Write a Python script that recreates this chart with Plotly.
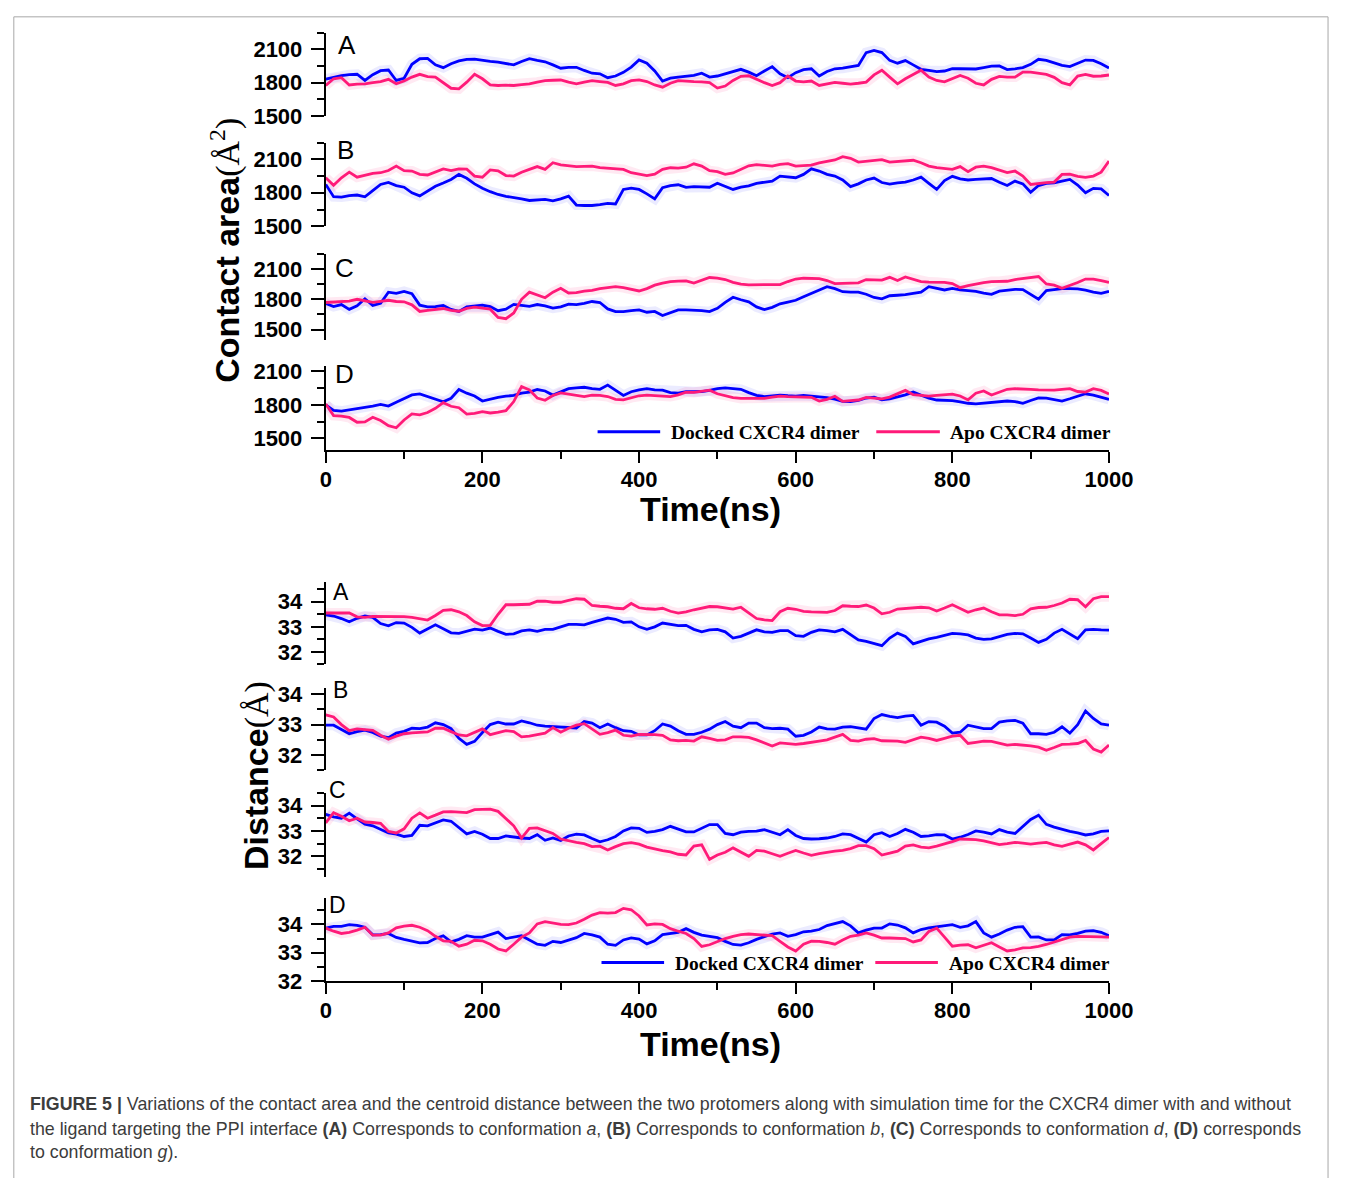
import plotly.graph_objects as go

# ---------------------------------------------------------------- data
time_ns = list(range(0, 1001, 10))

# Contact area (Å^2), smoothed traces
area_a_docked = [1833, 1850, 1863, 1872, 1876, 1820, 1872, 1908, 1914, 1820, 1840, 1965, 2015, 2018, 1960, 1935, 1970, 1995, 2010, 2012,
                 2000, 1992, 1985, 1972, 1960, 1990, 2015, 2000, 1988, 1960, 1930, 1938, 1938, 1910, 1885, 1880, 1845, 1860, 1893, 1940,
                 2005, 1975, 1905, 1815, 1840, 1850, 1860, 1865, 1885, 1850, 1860, 1878, 1900, 1920, 1895, 1863, 1905, 1944, 1880, 1845,
                 1890, 1917, 1925, 1860, 1900, 1925, 1930, 1940, 1955, 2070, 2090, 2070, 2000, 1975, 1998, 1960, 1920, 1910, 1900, 1905,
                 1925, 1925, 1925, 1923, 1935, 1948, 1950, 1918, 1925, 1935, 1965, 2010, 2000, 1975, 1955, 1945, 1975, 2003, 2000, 1970,
                 1932]
area_a_apo = [1775, 1835, 1845, 1780, 1788, 1790, 1800, 1810, 1830, 1790, 1815, 1850, 1875, 1855, 1850, 1800, 1750, 1745, 1805, 1875,
              1835, 1780, 1775, 1778, 1775, 1782, 1790, 1805, 1818, 1822, 1824, 1805, 1790, 1805, 1818, 1810, 1803, 1775, 1790, 1818,
              1825, 1810, 1780, 1760, 1795, 1818, 1812, 1810, 1808, 1800, 1752, 1770, 1820, 1857, 1862, 1830, 1800, 1775, 1800, 1860,
              1815, 1808, 1815, 1775, 1790, 1803, 1795, 1788, 1795, 1805, 1870, 1912, 1850, 1790, 1835, 1870, 1912, 1850, 1820, 1808,
              1835, 1865, 1840, 1795, 1780, 1830, 1857, 1850, 1850, 1895, 1895, 1882, 1875, 1848, 1800, 1780, 1860, 1875, 1858, 1860,
              1869]
area_b_docked = [1875, 1765, 1762, 1775, 1780, 1764, 1820, 1875, 1893, 1865, 1850, 1800, 1772, 1815, 1858, 1888, 1920, 1965, 1930, 1880,
                 1840, 1810, 1785, 1768, 1758, 1745, 1731, 1738, 1740, 1728, 1745, 1770, 1690, 1686, 1686, 1693, 1705, 1700, 1830, 1842,
                 1830, 1790, 1745, 1845, 1865, 1872, 1848, 1855, 1855, 1850, 1885, 1860, 1830, 1850, 1862, 1885, 1898, 1905, 1950, 1940,
                 1935, 1965, 2015, 1995, 1965, 1950, 1915, 1855, 1880, 1915, 1932, 1892, 1878, 1890, 1895, 1915, 1941, 1885, 1830, 1910,
                 1948, 1925, 1915, 1920, 1925, 1928, 1895, 1866, 1905, 1880, 1805, 1865, 1885, 1890, 1905, 1920, 1870, 1800, 1840, 1835,
                 1776]
area_b_apo = [1935, 1868, 1935, 1985, 1940, 1955, 1975, 1980, 2000, 2040, 1998, 1995, 1965, 1960, 1990, 2015, 2000, 2015, 2012, 1950,
              1940, 2005, 1998, 1955, 1950, 1985, 2010, 2035, 2010, 2070, 2050, 2040, 2035, 2038, 2040, 2025, 2018, 2015, 2010, 1980,
              1965, 1955, 1968, 2010, 2025, 2022, 2030, 2060, 2040, 1998, 1990, 1965, 1978, 2010, 2042, 2052, 2048, 2040, 2055, 2062,
              2040, 2044, 2048, 2068, 2080, 2095, 2125, 2110, 2076, 2085, 2095, 2098, 2075, 2080, 2090, 2092, 2070, 2040, 2025, 2018,
              2010, 2035, 1990, 2030, 2040, 2025, 2000, 1982, 1995, 1950, 1875, 1885, 1892, 1896, 1965, 1968, 1948, 1938, 1950, 1985,
              2085]
area_c_docked = [1758, 1728, 1748, 1700, 1735, 1805, 1740, 1760, 1870, 1858, 1878, 1855, 1742, 1725, 1727, 1740, 1700, 1680, 1725, 1730,
                 1742, 1728, 1687, 1702, 1750, 1740, 1730, 1748, 1735, 1712, 1725, 1752, 1748, 1760, 1778, 1768, 1705, 1678, 1678, 1688,
                 1695, 1672, 1680, 1640, 1668, 1695, 1695, 1693, 1688, 1678, 1710, 1770, 1820, 1795, 1775, 1725, 1698, 1720, 1755, 1772,
                 1790, 1825, 1860, 1895, 1925, 1905, 1875, 1870, 1871, 1850, 1818, 1805, 1835, 1840, 1845, 1858, 1871, 1925, 1905, 1892,
                 1907, 1892, 1885, 1878, 1860, 1848, 1880, 1892, 1898, 1895, 1850, 1800, 1885, 1895, 1905, 1905, 1902, 1890, 1870, 1858,
                 1878]
area_c_apo = [1768, 1774, 1778, 1782, 1800, 1785, 1770, 1780, 1790, 1778, 1775, 1745, 1680, 1690, 1700, 1709, 1690, 1682, 1710, 1722,
              1712, 1702, 1620, 1608, 1665, 1800, 1870, 1840, 1815, 1870, 1908, 1862, 1865, 1880, 1888, 1905, 1918, 1925, 1915, 1900,
              1882, 1905, 1940, 1960, 1975, 1980, 1982, 1960, 1985, 2015, 2010, 1995, 1968, 1950, 1943, 1943, 1950, 1948, 1945, 1975,
              2000, 2008, 2008, 2005, 1985, 1955, 1958, 1960, 1962, 1995, 1995, 1990, 2017, 1985, 2020, 1995, 1975, 1970, 1968, 1968,
              1955, 1915, 1935, 1952, 1965, 1975, 1975, 1978, 1995, 2005, 2017, 2025, 1952, 1940, 1908, 1935, 1965, 2000, 2000, 1985,
              1968]
area_d_docked = [1800, 1752, 1745, 1755, 1770, 1775, 1790, 1805, 1790, 1825, 1860, 1890, 1898, 1875, 1848, 1828, 1860, 1938, 1905, 1880,
                 1835, 1852, 1868, 1878, 1885, 1905, 1915, 1938, 1925, 1888, 1918, 1945, 1952, 1958, 1945, 1940, 1978, 1935, 1885, 1918,
                 1935, 1945, 1935, 1932, 1910, 1905, 1918, 1918, 1920, 1930, 1945, 1952, 1947, 1940, 1910, 1885, 1875, 1880, 1888, 1882,
                 1879, 1885, 1880, 1875, 1865, 1852, 1832, 1830, 1840, 1862, 1870, 1845, 1855, 1872, 1890, 1915, 1885, 1860, 1844, 1844,
                 1838, 1828, 1815, 1810, 1815, 1825, 1829, 1835, 1830, 1815, 1840, 1862, 1860, 1845, 1835, 1855, 1875, 1900, 1888, 1870,
                 1850]
area_d_apo = [1809, 1705, 1700, 1688, 1645, 1648, 1690, 1660, 1615, 1596, 1665, 1720, 1712, 1732, 1770, 1820, 1788, 1775, 1718, 1724,
              1740, 1728, 1735, 1748, 1830, 1965, 1935, 1862, 1842, 1885, 1908, 1895, 1885, 1875, 1888, 1885, 1875, 1850, 1845, 1865,
              1882, 1888, 1885, 1878, 1875, 1890, 1915, 1912, 1920, 1932, 1900, 1885, 1865, 1858, 1860, 1860, 1858, 1870, 1879, 1875,
              1872, 1875, 1868, 1835, 1850, 1878, 1832, 1838, 1844, 1868, 1860, 1855, 1870, 1900, 1930, 1892, 1882, 1878, 1885, 1890,
              1897, 1880, 1845, 1905, 1925, 1888, 1915, 1940, 1945, 1945, 1940, 1935, 1932, 1932, 1940, 1945, 1920, 1915, 1945, 1930,
              1897]

# Centroid distance (Å), smoothed traces
dist_a_docked = [33.48, 33.43, 33.33, 33.20, 33.34, 33.43, 33.38, 33.13, 33.04, 33.17, 33.15, 32.98, 32.75, 32.92, 33.08, 32.92, 32.76,
                 32.74, 32.83, 32.91, 32.87, 32.95, 32.82, 32.70, 32.72, 32.84, 32.88, 32.82, 32.90, 32.90, 33.00, 33.10, 33.10, 33.08,
                 33.18, 33.25, 33.35, 33.30, 33.18, 33.20, 33.00, 32.90, 33.00, 33.15, 33.10, 33.05, 33.06, 32.90, 32.80, 32.88, 32.90,
                 32.80, 32.55, 32.62, 32.75, 32.88, 32.80, 32.78, 32.85, 32.85, 32.65, 32.62, 32.78, 32.88, 32.85, 32.80, 32.90, 32.70,
                 32.48, 32.42, 32.33, 32.25, 32.55, 32.75, 32.62, 32.32, 32.42, 32.52, 32.58, 32.65, 32.74, 32.72, 32.68, 32.55, 32.50,
                 32.52, 32.60, 32.70, 32.74, 32.72, 32.55, 32.38, 32.50, 32.75, 32.90, 32.70, 32.53, 32.88, 32.90, 32.88, 32.87]
dist_a_apo = [33.55, 33.55, 33.52, 33.55, 33.40, 33.38, 33.42, 33.42, 33.43, 33.42, 33.41, 33.38, 33.32, 33.27, 33.45, 33.66, 33.68,
              33.60, 33.45, 33.20, 33.05, 33.06, 33.50, 33.88, 33.88, 33.88, 33.90, 34.02, 34.02, 33.98, 33.98, 34.05, 34.12, 34.10,
              33.85, 33.82, 33.80, 33.74, 33.72, 33.93, 33.76, 33.72, 33.70, 33.74, 33.62, 33.55, 33.60, 33.68, 33.75, 33.81, 33.80,
              33.76, 33.71, 33.78, 33.55, 33.33, 33.28, 33.25, 33.60, 33.74, 33.70, 33.62, 33.60, 33.60, 33.58, 33.65, 33.84, 33.82,
              33.81, 33.87, 33.75, 33.52, 33.58, 33.71, 33.73, 33.75, 33.78, 33.76, 33.63, 33.75, 33.88, 33.73, 33.58, 33.68, 33.75,
              33.60, 33.48, 33.48, 33.45, 33.50, 33.72, 33.77, 33.78, 33.85, 33.95, 34.10, 34.08, 33.80, 34.12, 34.20, 34.20]
dist_b_docked = [32.98, 32.98, 32.84, 32.70, 32.77, 32.82, 32.74, 32.62, 32.57, 32.72, 32.78, 32.88, 32.87, 32.92, 33.06, 33.00, 32.87,
                 32.55, 32.35, 32.45, 32.74, 33.00, 33.08, 33.02, 33.02, 33.12, 33.06, 32.98, 32.95, 32.94, 32.93, 32.90, 32.89, 33.10,
                 33.05, 32.90, 33.02, 32.90, 32.80, 32.78, 32.66, 32.66, 32.80, 33.02, 32.95, 32.80, 32.68, 32.68, 32.75, 32.85, 33.00,
                 33.10, 32.95, 32.90, 33.05, 33.05, 32.90, 32.87, 32.88, 32.85, 32.62, 32.65, 32.76, 32.92, 32.86, 32.85, 32.92, 32.93,
                 32.88, 32.85, 33.20, 33.33, 33.27, 33.23, 33.28, 33.30, 32.98, 33.10, 33.08, 32.95, 32.72, 32.75, 32.98, 32.92, 32.87,
                 32.87, 33.08, 33.12, 33.14, 33.05, 32.70, 32.70, 32.68, 32.75, 32.93, 32.72, 33.00, 33.45, 33.20, 33.02, 32.98]
dist_b_apo = [33.32, 33.25, 33.00, 32.80, 32.86, 32.83, 32.81, 32.65, 32.52, 32.62, 32.70, 32.73, 32.74, 32.76, 32.88, 32.88, 32.77,
              32.66, 32.63, 32.75, 32.86, 32.67, 32.74, 32.80, 32.77, 32.60, 32.62, 32.67, 32.72, 32.90, 32.75, 32.88, 32.98, 33.03,
              32.85, 32.68, 32.74, 32.82, 32.65, 32.62, 32.68, 32.68, 32.67, 32.65, 32.50, 32.47, 32.48, 32.46, 32.60, 32.55, 32.48,
              32.50, 32.60, 32.60, 32.58, 32.50, 32.40, 32.30, 32.40, 32.37, 32.35, 32.38, 32.43, 32.46, 32.50, 32.60, 32.68, 32.48,
              32.46, 32.52, 32.54, 32.47, 32.46, 32.46, 32.42, 32.50, 32.59, 32.55, 32.48, 32.55, 32.62, 32.65, 32.38, 32.42, 32.46,
              32.45, 32.38, 32.33, 32.35, 32.33, 32.30, 32.26, 32.16, 32.25, 32.35, 32.36, 32.38, 32.48, 32.20, 32.10, 32.33]
dist_c_docked = [33.65, 33.55, 33.50, 33.70, 33.47, 33.26, 33.20, 33.05, 32.92, 32.87, 32.78, 32.82, 33.22, 33.20, 33.30, 33.43, 33.38,
                 33.13, 32.88, 32.98, 32.87, 32.70, 32.70, 32.80, 32.75, 32.72, 32.70, 32.85, 32.63, 32.72, 32.62, 32.80, 32.87, 32.84,
                 32.70, 32.57, 32.65, 32.78, 33.00, 33.12, 33.10, 32.94, 32.98, 33.05, 33.18, 33.08, 32.96, 32.96, 33.10, 33.25, 33.25,
                 32.90, 32.85, 32.95, 32.98, 32.99, 33.05, 32.95, 32.85, 33.05, 32.82, 32.70, 32.68, 32.69, 32.72, 32.78, 32.88, 32.85,
                 32.70, 32.56, 32.85, 32.93, 32.78, 32.90, 33.06, 32.95, 32.78, 32.80, 32.85, 32.84, 32.68, 32.75, 32.86, 33.00, 32.95,
                 32.88, 33.05, 32.95, 32.90, 33.18, 33.45, 33.62, 33.26, 33.15, 33.05, 32.98, 32.92, 32.84, 32.88, 32.98, 33.00]
dist_c_apo = [33.32, 33.72, 33.58, 33.40, 33.50, 33.35, 33.33, 33.30, 32.98, 32.92, 33.08, 33.50, 33.71, 33.50, 33.62, 33.75, 33.76,
              33.73, 33.72, 33.84, 33.84, 33.86, 33.77, 33.50, 33.20, 32.72, 33.10, 33.12, 33.00, 32.90, 32.68, 32.60, 32.55, 32.50,
              32.38, 32.40, 32.25, 32.38, 32.50, 32.54, 32.48, 32.36, 32.28, 32.22, 32.17, 32.08, 32.05, 32.40, 32.45, 31.88, 32.05,
              32.16, 32.33, 32.15, 32.00, 32.23, 32.20, 32.10, 32.00, 32.12, 32.23, 32.13, 32.04, 32.10, 32.16, 32.20, 32.23, 32.30,
              32.42, 32.42, 32.30, 32.05, 32.12, 32.20, 32.40, 32.45, 32.36, 32.33, 32.40, 32.48, 32.58, 32.68, 32.68, 32.66, 32.61,
              32.53, 32.46, 32.50, 32.55, 32.52, 32.48, 32.52, 32.55, 32.45, 32.39, 32.48, 32.56, 32.45, 32.25, 32.50, 32.74]
dist_d_docked = [33.87, 33.93, 33.93, 33.99, 33.97, 33.90, 33.63, 33.64, 33.68, 33.54, 33.47, 33.42, 33.35, 33.36, 33.50, 33.60, 33.38,
                 33.47, 33.60, 33.55, 33.55, 33.64, 33.73, 33.50, 33.55, 33.60, 33.45, 33.30, 33.26, 33.40, 33.36, 33.45, 33.53, 33.68,
                 33.63, 33.55, 33.30, 33.26, 33.45, 33.52, 33.48, 33.31, 33.42, 33.64, 33.67, 33.72, 33.85, 33.72, 33.62, 33.58, 33.53,
                 33.40, 33.29, 33.27, 33.35, 33.47, 33.56, 33.66, 33.70, 33.58, 33.64, 33.74, 33.76, 33.82, 33.96, 34.02, 34.10, 33.95,
                 33.70, 33.80, 33.87, 33.87, 34.02, 33.98, 33.88, 33.70, 33.82, 33.88, 33.92, 33.95, 33.99, 33.90, 33.95, 34.10, 33.70,
                 33.55, 33.66, 33.80, 33.90, 33.92, 33.55, 33.56, 33.45, 33.45, 33.64, 33.63, 33.68, 33.76, 33.78, 33.72, 33.60]
dist_d_apo = [33.87, 33.76, 33.68, 33.72, 33.80, 33.90, 33.62, 33.62, 33.70, 33.88, 33.94, 33.97, 33.90, 33.78, 33.58, 33.42, 33.40,
              33.23, 33.30, 33.44, 33.42, 33.30, 33.13, 33.06, 33.30, 33.55, 33.70, 34.02, 34.10, 34.04, 34.00, 33.99, 34.05, 34.18,
              34.33, 34.42, 34.40, 34.42, 34.57, 34.52, 34.30, 33.98, 34.02, 34.00, 33.85, 33.76, 33.68, 33.50, 33.22, 33.28, 33.40,
              33.50, 33.58, 33.64, 33.66, 33.64, 33.62, 33.60, 33.40, 33.20, 33.06, 33.30, 33.41, 33.40, 33.36, 33.30, 33.45, 33.58,
              33.62, 33.70, 33.62, 33.52, 33.52, 33.52, 33.50, 33.38, 33.45, 33.75, 33.87, 33.55, 33.23, 33.27, 33.28, 33.17, 33.25,
              33.35, 33.20, 33.06, 33.10, 33.17, 33.18, 33.22, 33.29, 33.38, 33.47, 33.55, 33.58, 33.58, 33.56, 33.56, 33.55]

panel_letters = ["A", "B", "C", "D"]
series_names = ["Docked CXCR4 dimer", "Apo CXCR4 dimer"]
x_ticks = [0, 200, 400, 600, 800, 1000]

# ---------------------------------------------------------------- layout helpers
W, H = 1354, 1178


def px(x):
    return x / W


def py(y):
    return 1 - y / H


BLUE = "#0000ff"
PINK = "#ff1a78"
HAZE_BLUE = "rgba(60,60,255,0.10)"
HAZE_PINK = "rgba(255,40,130,0.10)"
TICK_FONT = dict(family="Arial, Liberation Sans, sans-serif", size=22, color="black", weight="bold")

# (data pair, y-range, pixel top, pixel bottom)
area_panels = [
    ((area_a_docked, area_a_apo), [1500, 2250], 26.0, 111.0),
    ((area_b_docked, area_b_apo), [1500, 2250], 138.0, 223.0),
    ((area_c_docked, area_c_apo), [1400, 2250], 251.0, 338.5),
    ((area_d_docked, area_d_apo), [1400, 2150], 365.0, 450.3),
]
dist_panels = [
    ((dist_a_docked, dist_a_apo), [31.5, 34.8], 584.6, 668.8),
    ((dist_b_docked, dist_b_apo), [31.5, 34.2], 692.8, 776.5),
    ((dist_c_docked, dist_c_apo), [31.2, 34.5], 799.4, 884.6),
    ((dist_d_docked, dist_d_apo), [32.0, 34.95], 906.0, 990.7),
]

fig = go.Figure()
layout = {}

X_DOMAIN = [px(327), px(1128)]


def add_group(panels, first_index, xname, major, tick0, minor):
    xref = "x" if xname == "xaxis" else "x2"
    for k, (pair, yrange, top, bottom) in enumerate(panels):
        idx = first_index + k
        yname = "yaxis" if idx == 1 else f"yaxis{idx}"
        yref = "y" if idx == 1 else f"y{idx}"
        docked, apo = pair
        for vals, haze in ((docked, HAZE_BLUE), (apo, HAZE_PINK)):
            fig.add_trace(go.Scatter(x=time_ns, y=vals, xaxis=xref, yaxis=yref, mode="lines",
                                     line=dict(color=haze, width=10), hoverinfo="skip",
                                     showlegend=False))
        for vals, col, name in ((docked, BLUE, series_names[0]), (apo, PINK, series_names[1])):
            fig.add_trace(go.Scatter(x=time_ns, y=vals, xaxis=xref, yaxis=yref, mode="lines",
                                     line=dict(color=col, width=2.8), name=name,
                                     showlegend=False))
        layout[yname] = dict(
            domain=[py(bottom), py(top)], range=yrange, anchor=xref,
            showgrid=False, zeroline=False, showline=True, linecolor="black", linewidth=2,
            ticks="outside", ticklen=13, tickwidth=2, tickcolor="black",
            tickmode="linear", tick0=tick0, dtick=major, tickfont=TICK_FONT,
            ticklabelstandoff=4,
            minor=dict(tick0=tick0, dtick=minor, ticks="outside", ticklen=7,
                       tickwidth=2, tickcolor="black", showgrid=False),
        )
    bottom_axis = first_index + len(panels) - 1
    layout[xname] = dict(
        domain=X_DOMAIN, range=[0, 1000], anchor=f"y{bottom_axis}",
        showgrid=False, zeroline=False, showline=True, linecolor="black", linewidth=2,
        ticks="outside", ticklen=11, tickwidth=2, tickcolor="black",
        tickmode="array", tickvals=x_ticks, ticktext=[str(v) for v in x_ticks],
        tickfont=TICK_FONT, ticklabelstandoff=-2,
        minor=dict(tick0=0, dtick=100, ticks="outside", ticklen=7, tickwidth=2,
                   tickcolor="black", showgrid=False),
    )


add_group(area_panels, 1, "xaxis", 300, 1500, 150)
add_group(dist_panels, 5, "xaxis2", 1, 32, 0.5)

annotations = []
shapes = []

# panel letters
for letter, (cx, cy) in zip(panel_letters, [(349, 39), (347, 145), (346, 265), (346, 373)]):
    annotations.append(dict(text=letter, x=px(cx), y=py(cy), xref="paper", yref="paper",
                            showarrow=False, xanchor="center", yanchor="middle",
                            font=dict(family="Arial, Liberation Sans", size=26, color="black")))
for letter, (cx, cy) in zip(panel_letters, [(343, 595), (342, 695), (339, 797), (339, 914)]):
    annotations.append(dict(text=letter, x=px(cx), y=py(cy), xref="paper", yref="paper",
                            showarrow=False, xanchor="center", yanchor="middle",
                            font=dict(family="Arial, Liberation Sans", size=23, color="black")))

TITLE_FONT = dict(family="Arial, Liberation Sans", size=34, color="black", weight="bold")
SERIF = "font-family:Liberation Serif, Times New Roman, serif;font-weight:normal"
for cy in (511, 1055):
    annotations.append(dict(text="Time(ns)", x=px(720), y=py(cy), xref="paper", yref="paper",
                            showarrow=False, xanchor="center", yanchor="middle", font=TITLE_FONT))
annotations.append(dict(text=f"Contact area<span style=\"{SERIF}\">(Å<sup>2</sup>)</span>",
                        x=px(225), y=py(248), xref="paper", yref="paper", textangle=-90,
                        showarrow=False, xanchor="center", yanchor="middle", font=TITLE_FONT))
annotations.append(dict(text=f"Distance<span style=\"{SERIF}\">(Å)</span>",
                        x=px(256), y=py(782), xref="paper", yref="paper", textangle=-90,
                        showarrow=False, xanchor="center", yanchor="middle", font=TITLE_FONT))

# legends (one per group)
LEG_FONT = dict(family="Liberation Serif, Times New Roman, serif", size=19.5, color="black", weight="bold")
for ly, (b0, b1, bt, p0, p1, pt) in ((432, (605, 669, 678, 890, 955, 963)),
                                     (972, (609, 673, 682, 889, 953, 962))):
    for x0, x1, tx, col, name in ((b0, b1, bt, BLUE, series_names[0]), (p0, p1, pt, PINK, series_names[1])):
        shapes.append(dict(type="line", xref="paper", yref="paper", x0=px(x0), x1=px(x1),
                           y0=py(ly), y1=py(ly), line=dict(color=col, width=3)))
        annotations.append(dict(text=name, x=px(tx), y=py(ly + 1), xref="paper", yref="paper",
                                showarrow=False, xanchor="left", yanchor="middle", font=LEG_FONT))

# caption
CAP_FONT = dict(family="Liberation Sans, Arial, sans-serif", size=17.8, color="#3c3c3c")
caption_lines = [
    "<b>FIGURE 5 |</b> Variations of the contact area and the centroid distance between the two protomers "
    "along with simulation time for the CXCR4 dimer with and without",
    "the ligand targeting the PPI interface <b>(A)</b> Corresponds to conformation <i>a</i>, <b>(B)</b> "
    "Corresponds to conformation <i>b</i>, <b>(C)</b> Corresponds to conformation <i>d</i>, <b>(D)</b> corresponds",
    "to conformation <i>g</i>).",
]
for line, cy in zip(caption_lines, (1116, 1141, 1165)):
    annotations.append(dict(text=line, x=px(23), y=py(cy), xref="paper", yref="paper",
                            showarrow=False, xanchor="left", yanchor="middle", font=CAP_FONT))

# outer frame
shapes.append(dict(type="rect", xref="paper", yref="paper", x0=px(8), x1=px(1352),
                   y0=py(1195), y1=py(10), line=dict(color="#a8a8a8", width=1)))

fig.update_layout(
    width=W, height=H, margin=dict(l=0, r=0, t=0, b=0),
    paper_bgcolor="white", plot_bgcolor="white", showlegend=False,
    annotations=annotations, shapes=shapes, **layout,
)

# page without body margin so the figure fills the window exactly
fig.write_html(
    "out.html",
    post_script="document.body.style.margin='0';document.documentElement.style.overflow='hidden';",
)
